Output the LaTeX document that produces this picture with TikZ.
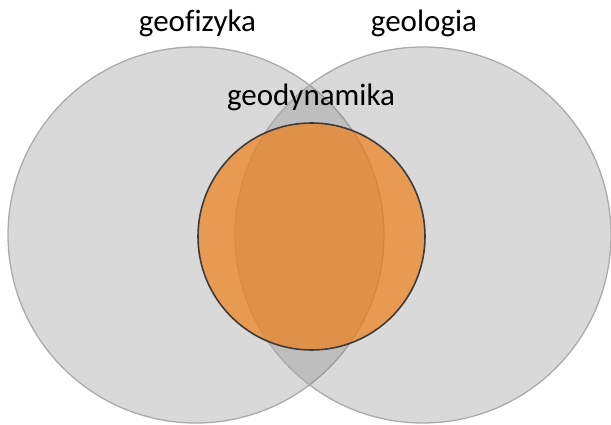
\documentclass[tikz,border=0pt]{standalone}
\usepackage{fontspec}
\setmainfont{Carlito}[Ligatures=NoCommon]
\definecolor{setgray}{RGB}{124,124,124}
\definecolor{setedge}{RGB}{170,170,170}
\definecolor{geoorange}{RGB}{240,125,20}
\definecolor{geoedge}{RGB}{60,60,60}
\begin{document}
\begin{tikzpicture}[x=1pt,y=1pt,
  setcircle/.style={circle,inner sep=0pt,minimum size=376pt,fill=setgray,fill opacity=0.29,draw=setedge,draw opacity=1,line width=1.3pt},
  subcircle/.style={circle,inner sep=0pt,minimum size=227pt,fill=geoorange,fill opacity=0.68,draw=geoedge,draw opacity=1,line width=1.6pt},
  label/.style={anchor=base,inner sep=0pt,font=\fontsize{31}{36}\selectfont,text=black}]
\useasboundingbox (0,0) rectangle (611,425);
\node[setcircle] (geofiz) at (196,190) {};
\node[setcircle] (geolog) at (423,190) {};
\node[subcircle] (geodyn) at (311.5,188.5) {};
\node[label] (tfiz) at (197.5,393) {geofizyka};
\node[label] (tlog) at (424,393) {geologia};
\node[label] (tdyn) at (311,319) {geodynamika};
\end{tikzpicture}
\end{document}
